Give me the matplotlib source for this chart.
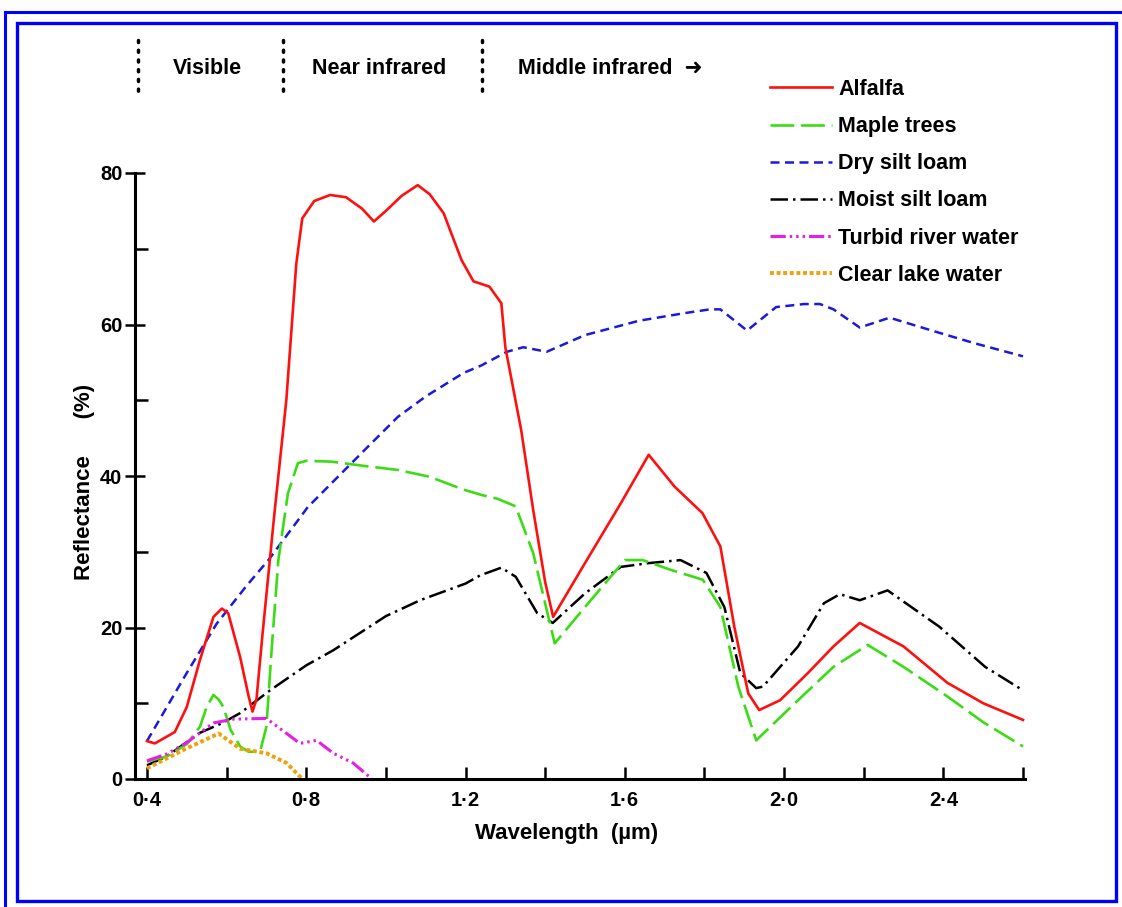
import numpy as np
import matplotlib.pyplot as plt
from matplotlib.lines import Line2D
from matplotlib.patches import Rectangle

plt.rcParams['font.family'] = ['Liberation Sans', 'DejaVu Sans']
plt.rcParams['font.weight'] = 'bold'
plt.rcParams['axes.labelweight'] = 'bold'

# wavelength (um) / reflectance (%)
alf_wl = [0.40, 0.42, 0.47, 0.50, 0.533, 0.567, 0.588, 0.604, 0.634, 0.655, 0.665, 0.675,
          0.69, 0.72, 0.75, 0.775, 0.79, 0.82, 0.86, 0.90, 0.94, 0.97, 1.00, 1.04, 1.08,
          1.11, 1.145, 1.19, 1.22, 1.26, 1.29, 1.30, 1.34, 1.37, 1.40, 1.42, 1.50, 1.59,
          1.66, 1.725, 1.795, 1.84, 1.875, 1.91, 1.9375, 1.99, 2.06, 2.124, 2.19, 2.30,
          2.41, 2.50, 2.60]
alf_r = [5.0, 4.7, 6.2, 9.5, 15.7, 21.4, 22.5, 21.9, 16.1, 11.0, 8.9, 10.5,
         19.0, 35.0, 50.0, 68.0, 74.0, 76.3, 77.1, 76.8, 75.3, 73.6, 75.0, 77.0, 78.4,
         77.2, 74.7, 68.5, 65.7, 65.0, 62.8, 57.0, 46.0, 35.5, 26.0, 21.4, 28.5, 36.4,
         42.8, 38.6, 35.1, 30.7, 20.1, 11.3, 9.1, 10.4, 14.0, 17.5, 20.6, 17.5,
         12.7, 10.0, 7.8]

maple_wl = [0.40, 0.45, 0.50, 0.533, 0.55, 0.567, 0.58, 0.592, 0.61, 0.634, 0.655, 0.684,
            0.70, 0.713, 0.73, 0.754, 0.779, 0.80, 0.8625, 0.95, 1.03, 1.11, 1.195, 1.24,
            1.28, 1.326, 1.37, 1.424, 1.50, 1.60, 1.645, 1.716, 1.796, 1.84, 1.885, 1.93,
            2.035, 2.124, 2.21, 2.30, 2.41, 2.50, 2.60]
maple_r = [2.3, 3.0, 4.6, 6.9, 9.5, 11.1, 10.5, 9.5, 6.5, 4.3, 3.6, 3.6,
           6.9, 17.0, 28.9, 37.7, 41.7, 42.0, 41.9, 41.3, 40.8, 39.9, 38.2, 37.5,
           37.0, 36.0, 29.8, 17.9, 22.7, 28.9, 28.9, 27.6, 26.3, 22.7, 12.2, 5.1,
           10.4, 14.8, 17.7, 14.8, 10.9, 7.5, 4.3]

dry_wl = [0.40, 0.50, 0.575, 0.65, 0.705, 0.804, 0.946, 1.03, 1.10, 1.195, 1.24, 1.304,
          1.345, 1.404, 1.50, 1.636, 1.75, 1.814, 1.84, 1.907, 1.98, 2.05, 2.09, 2.124,
          2.19, 2.265, 2.39, 2.48, 2.60]
dry_r = [5.0, 14.0, 20.5, 25.5, 28.9, 35.9, 43.4, 47.8, 50.5, 53.6, 54.6, 56.4,
         57.0, 56.4, 58.6, 60.5, 61.5, 62.0, 62.0, 59.2, 62.3, 62.7, 62.7, 62.0,
         59.6, 60.9, 58.9, 57.5, 55.8]

moist_wl = [0.40, 0.45, 0.533, 0.59, 0.634, 0.709, 0.80, 0.868, 1.00, 1.086, 1.20, 1.2375,
            1.29, 1.326, 1.38, 1.419, 1.50, 1.59, 1.66, 1.74, 1.805, 1.85, 1.89, 1.93,
            1.947, 2.035, 2.10, 2.14, 2.19, 2.26, 2.39, 2.505, 2.60]
moist_r = [1.8, 3.0, 6.1, 7.4, 8.7, 11.7, 15.0, 17.0, 21.5, 23.6, 25.8, 26.9,
           27.9, 26.7, 21.9, 20.6, 24.5, 28.0, 28.5, 28.9, 27.2, 22.7, 14.0, 12.0,
           12.2, 17.5, 23.2, 24.4, 23.6, 24.9, 20.1, 14.8, 11.7]

river_wl = [0.40, 0.45, 0.50, 0.533, 0.567, 0.617, 0.70, 0.751, 0.784, 0.826, 0.868, 0.918, 0.965]
river_r = [2.4, 3.3, 4.8, 6.1, 7.4, 7.9, 8.0, 6.0, 4.7, 5.1, 3.4, 2.1, 0.0]

lake_wl = [0.40, 0.49, 0.58, 0.634, 0.70, 0.751, 0.79]
lake_r = [1.4, 3.8, 6.0, 4.0, 3.4, 2.1, 0.0]

xticks_major = [0.4, 0.8, 1.2, 1.6, 2.0, 2.4]
xtick_labels = ["0·4", "0·8", "1·2", "1·6", "2·0", "2·4"]
yticks_major = [0, 20, 40, 60, 80]

fig = plt.figure(figsize=(11.22, 9.07), dpi=100)
ax = fig.add_axes([135/1122, 1-779/907, 890/1122, 606/907])

ax.plot(dry_wl, dry_r, color='#1a1adc', lw=1.8, dashes=(3.6, 2.2), label='Dry silt loam')
ax.plot(moist_wl, moist_r, color='black', lw=1.8, dashes=(7, 2, 1, 2), label='Moist silt loam')
ax.plot(maple_wl, maple_r, color='#3cdc14', lw=1.9, dashes=(9, 2.6), label='Maple trees')
ax.plot(alf_wl, alf_r, color='#ff1010', lw=1.9, label='Alfalfa')
ax.plot(river_wl, river_r, color='#e61ee6', lw=2.2,
        dashes=(5, 1.3, 0.8, 1.3, 0.8, 1.3, 0.8, 1.3), label='Turbid river water')
ax.plot(lake_wl, lake_r, color='#f0a00a', lw=2.8, dashes=(1, 0.7), label='Clear lake water')

ax.set_xlim(0.37, 2.605)
ax.set_ylim(0, 80)
for s in ['top', 'right']:
    ax.spines[s].set_visible(False)
for s in ['left', 'bottom']:
    ax.spines[s].set_linewidth(2.2)

ax.set_xticks(xticks_major)
ax.set_xticklabels(xtick_labels)
ax.set_xticks(np.arange(0.6, 2.61, 0.4), minor=True)
ax.set_yticks(yticks_major)
ax.set_yticks([10, 30, 50, 70], minor=True)
ax.tick_params(axis='x', which='both', direction='in', length=9, width=1.8, pad=9,
               labelsize=14.5)
ax.tick_params(axis='y', which='major', direction='inout', length=14, width=1.8, pad=2,
               labelsize=14.5)
ax.tick_params(axis='y', which='minor', direction='in', length=9, width=1.8)

ax.set_xlabel("Wavelength  (µm)", fontsize=16, fontweight='bold')
ax.xaxis.set_label_coords((567-135)/890, -0.072)
ax.set_ylabel("Reflectance      (%)", fontsize=16, fontweight='bold')
ax.yaxis.set_label_coords(-0.045, 0.49)

order = ['Alfalfa', 'Maple trees', 'Dry silt loam', 'Moist silt loam',
         'Turbid river water', 'Clear lake water']
hmap = {l.get_label(): l for l in ax.get_lines()}
fig.legend([hmap[k] for k in order], order, loc='upper left',
           bbox_to_anchor=(770/1122, 1-79/907), frameon=False, fontsize=15.5,
           handlelength=2.9, handletextpad=0.28, borderpad=0, borderaxespad=0,
           labelspacing=0.75)

# spectral region markers above the plot
for xp in [138, 283, 482]:
    fig.add_artist(Line2D([xp/1122, xp/1122], [1-40/907, 1-97/907], color='black',
                          lw=2.5, linestyle=(0, (0.6, 2.2)), dash_capstyle='round'))
fig.text(207/1122, 1-69/907, "Visible", ha='center', va='center', fontsize=15.5)
fig.text(379/1122, 1-69/907, "Near infrared", ha='center', va='center', fontsize=15.5)
fig.text(518/1122, 1-69/907, "Middle infrared  ➜", ha='left', va='center', fontsize=15.5,
         family=['Liberation Sans', 'DejaVu Sans'])

# blue frame
fig.add_artist(Rectangle((17/1122, 1-901/907), (1116-17)/1122, (901-23)/907,
                         transform=fig.transFigure, fill=False, ec='#0000ff', lw=2.4))
fig.add_artist(Line2D([5/1122, 1], [1-12/907, 1-12/907], color='#0000ff', lw=2.2))
fig.add_artist(Line2D([5/1122, 5/1122], [0, 1-12/907], color='#0000ff', lw=2.2))

fig.savefig('out.png', dpi=100)
